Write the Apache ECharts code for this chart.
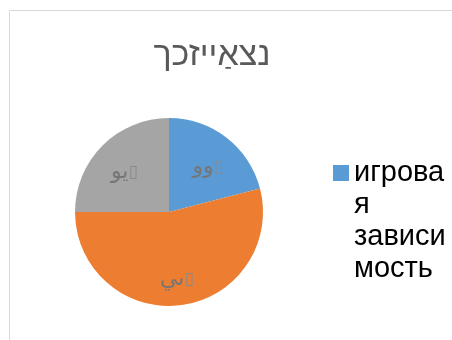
<!DOCTYPE html>
<html>
<head>
<meta charset="utf-8">
<script src="https://cdn.jsdelivr.net/npm/echarts@6/dist/echarts.min.js"></script>
<style>
  html, body { margin: 0; padding: 0; background: #ffffff; }
  #chart { width: 452px; height: 340px; }
</style>
</head>
<body>
<div id="chart"></div>
<script>
// Chart content
const chartTitle = 'נצאַייזכך';
const categories = ['игровая зависимость', 'ىي', 'يو'];
const values = [21, 54, 25];
const sliceWords = ['وو', 'ىي', 'يو'];
const sliceMark = '\u25AF';
const legendLines = ['игрова', 'я', 'зависи', 'мость'];
const colors = ['#5B9BD5', '#ED7D31', '#A5A5A5'];

const total = values.reduce((a, b) => a + b, 0);
const pieRadius = 94;
const labelRatio = 0.64;
const labelDrop = 5;

// mid angle of each slice, measured clockwise from 12 o'clock
function midAngle(i) {
  let before = 0;
  for (let k = 0; k < i; k++) before += values[k];
  return ((before + values[i] / 2) / total) * 2 * Math.PI;
}

// the legend text block is centred on its swatch, so pad it with blank
// lines above to keep the swatch level with the first line
function legendText() {
  const pad = new Array(legendLines.length - 1).fill('');
  return pad.concat(legendLines).join('\n');
}

const chart = echarts.init(document.getElementById('chart'), null, { renderer: 'canvas' });

chart.setOption({
  animation: false,
  backgroundColor: '#ffffff',
  graphic: [{
    type: 'rect',
    shape: { x: 9.5, y: 10.5, width: 600, height: 500 },
    style: { fill: 'none', stroke: '#d9d9d9', lineWidth: 1 },
    silent: true,
    z: -10
  }],
  title: {
    text: chartTitle,
    left: 207,
    top: 34,
    textAlign: 'center',
    textStyle: {
      fontFamily: 'Liberation Sans, DejaVu Sans, sans-serif',
      fontSize: 34,
      fontWeight: 'normal',
      color: '#595959'
    }
  },
  legend: {
    data: [categories[0]],
    orient: 'vertical',
    left: 328,
    top: 56,
    itemWidth: 16,
    itemHeight: 16,
    icon: 'rect',
    formatter: legendText,
    textStyle: {
      fontFamily: 'Liberation Sans, Arial, sans-serif',
      fontSize: 29,
      lineHeight: 32,
      color: '#000000'
    }
  },
  series: [{
    type: 'pie',
    center: [169, 212],
    radius: [0, pieRadius],
    startAngle: 90,
    clockwise: true,
    color: colors,
    itemStyle: { borderWidth: 0 },
    label: {
      show: true,
      position: 'inside',
      formatter: p => '{ar|' + sliceWords[p.dataIndex] + '}{bx|' + sliceMark + '}',
      color: '#767676',
      rich: {
        ar: {
          fontFamily: 'DejaVu Sans, sans-serif',
          fontSize: 22,
          color: '#767676',
          verticalAlign: 'bottom',
          lineHeight: 22
        },
        bx: {
          fontFamily: 'DejaVu Sans, sans-serif',
          fontSize: 17,
          color: '#8a8a8a',
          lineHeight: 22
        }
      }
    },
    labelLayout: params => {
      const a = midAngle(params.dataIndex);
      const extra = pieRadius * (labelRatio - 0.5);
      return { dx: extra * Math.sin(a), dy: -extra * Math.cos(a) + labelDrop };
    },
    emphasis: { disabled: true },
    data: categories.map((name, i) => ({ name, value: values[i] }))
  }]
});
</script>
</body>
</html>
